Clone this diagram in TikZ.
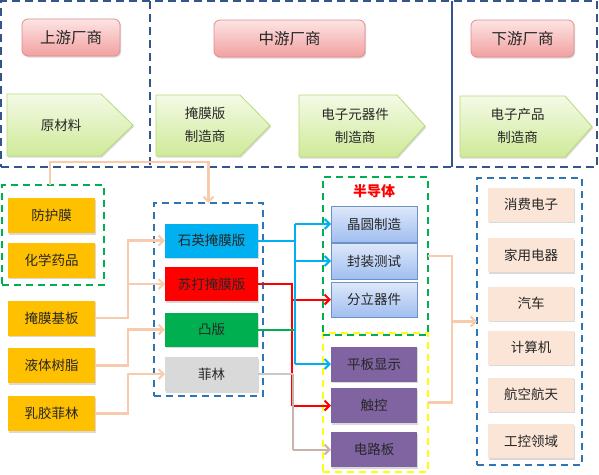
\documentclass[tikz,border=0pt]{standalone}
\usepackage{fontspec}
\newfontfamily\cjk{Noto Sans CJK SC}
\usetikzlibrary{arrows.meta,shadows}
\definecolor{dkblue}{RGB}{52,84,140}
\definecolor{grn}{RGB}{0,176,80}
\definecolor{mblue}{RGB}{46,117,182}
\definecolor{yel}{RGB}{255,255,0}
\definecolor{org}{RGB}{255,192,0}
\definecolor{peach}{RGB}{248,203,173}
\definecolor{prodc}{RGB}{251,229,214}
\definecolor{cyanb}{RGB}{0,176,240}
\definecolor{redc}{RGB}{255,0,0}
\definecolor{grayc}{RGB}{200,200,200}
\definecolor{purp}{RGB}{128,100,162}
\definecolor{graypink}{RGB}{200,178,172}
\definecolor{hdrtop}{RGB}{253,228,228}
\definecolor{hdrbot}{RGB}{242,160,160}
\definecolor{hdrbd}{RGB}{226,140,140}
\definecolor{pentop}{RGB}{244,250,230}
\definecolor{penbot}{RGB}{207,234,152}
\definecolor{penbd}{RGB}{183,218,120}
\definecolor{semtop}{RGB}{222,232,250}
\definecolor{sembot}{RGB}{160,190,240}
\definecolor{sembd}{RGB}{110,145,200}
\definecolor{txt}{RGB}{38,38,38}
\begin{document}
\begin{tikzpicture}[x=1pt,y=-1pt,
  font=\cjk\fontsize{13.5}{23}\selectfont, text=txt,
  every node/.style={inner sep=0pt, outer sep=0pt},
  shad/.style={drop shadow={opacity=0.3, shadow xshift=1.2pt, shadow yshift=-1.5pt}},
  outerdash/.style={draw=dkblue, line width=1.8pt, dash pattern=on 8pt off 5pt},
  gdash/.style={draw=grn, line width=1.8pt, dash pattern=on 7pt off 5pt},
  bdash/.style={draw=mblue, line width=1.8pt, dash pattern=on 7pt off 5pt},
  ydash/.style={draw=yel, line width=1.8pt, dash pattern=on 7pt off 5pt},
  hdr/.style={rounded corners=6pt, top color=hdrtop, bottom color=hdrbot, draw=hdrbd, line width=0.8pt, shad, minimum height=37pt, font=\cjk\fontsize{15.5}{18}\selectfont},
  pent/.style={top color=pentop, bottom color=penbot, draw=penbd, line width=0.8pt, shad},
  obox/.style={fill=org, shad, minimum width=87pt, minimum height=35pt},
  mbox/.style={shad, minimum width=93pt, minimum height=34pt},
  sbox/.style={top color=semtop, bottom color=sembot, draw=sembd, line width=0.8pt, minimum width=86pt, minimum height=36pt},
  pbox/.style={fill=purp, shad, minimum width=86pt, minimum height=35pt},
  dbox/.style={fill=prodc, shad, minimum width=86pt, minimum height=34pt},
  pline/.style={draw=peach, line width=2.2pt},
  parrow/.style={pline, -{Straight Barb[length=5pt,width=10pt,line width=2pt]}},
  cline/.style={line width=2pt},
  carrow/.style={line width=2pt, -{Straight Barb[length=5pt,width=10pt,line width=2pt]}}
]
\useasboundingbox (0,0) rectangle (599,474);

% top section
\node[outerdash, minimum width=596pt, minimum height=166pt] (topbox) at (299,84) {};
\draw[outerdash] (150,1) -- (150,167);
\draw[draw=dkblue, line width=1.8pt] (452,1) -- (452,167);

\node[hdr, minimum width=98pt] (hup) at (71,37.5) {上游厂商};
\node[hdr, minimum width=151pt] (hmid) at (289.5,38.5) {中游厂商};
\node[hdr, minimum width=103pt] (hdown) at (522.5,38.5) {下游厂商};

\shade[pent] (7,94) -- (101,94) -- (133,125) -- (101,156) -- (7,156) -- cycle;
\shade[pent] (156,95) -- (240,95) -- (270,125.5) -- (240,156) -- (156,156) -- cycle;
\shade[pent] (299,95) -- (397,95) -- (425,126) -- (397,157) -- (299,157) -- cycle;
\shade[pent] (460,96) -- (565,96) -- (592,126.5) -- (565,157) -- (460,157) -- cycle;
\node (p1) at (61,125) {原材料};
\node[align=center] (p2) at (205,125) {掩膜版\\制造商};
\node[align=center] (p3) at (355,125.5) {电子元器件\\制造商};
\node[align=center] (p4) at (517.5,126) {电子产品\\制造商};

% group boxes
\node[gdash, minimum width=102pt, minimum height=100pt] (rawg) at (53,235) {};
\node[bdash, minimum width=109pt, minimum height=193pt] (maskg) at (208.5,299.5) {};
\node[gdash, minimum width=105pt, minimum height=158pt] (semig) at (375.5,256) {};
\node[ydash, minimum width=105pt, minimum height=139pt] (yelg) at (375.5,402.5) {};
\node[bdash, minimum width=105pt, minimum height=287pt] (prodg) at (529.5,321.5) {};
\draw[gdash] (323,335) -- (428,335);

% raw materials
\node[obox] (fhm) at (51.5,215.5) {防护膜};
\node[obox] (hxyp) at (51.5,260) {化学药品};
\node[obox] (ymjb) at (51.5,318) {掩膜基板};
\node[obox] (ytsz) at (51.5,365.5) {液体树脂};
\node[obox] (rjfl) at (51.5,413.5) {乳胶菲林};

% mask plates
\node[mbox, fill=cyanb] (sy) at (211.5,240.5) {石英掩膜版};
\node[mbox, fill=redc] (sd) at (211.5,284) {苏打掩膜版};
\node[mbox, fill=grn] (tb) at (211.5,329.5) {凸版};
\node[mbox, fill=grayc!70] (fl) at (211.5,374) {菲林};

% semiconductor
\node[text=redc, font=\cjk\bfseries\fontsize{14}{16}\selectfont] (bdt) at (374,191) {半导体};
\node[sbox] (jy) at (374,224) {晶圆制造};
\node[sbox] (fz) at (374,261) {封装测试};
\node[sbox, minimum height=35pt] (flq) at (374,299.5) {分立器件};
\node[pbox] (pb) at (374,364) {平板显示};
\node[pbox] (ck) at (374,405.5) {触控};
\node[pbox] (dl) at (374,449.5) {电路板};

% products
\node[dbox] (xf) at (531,204.5) {消费电子};
\node[dbox] (jd) at (531,255) {家用电器};
\node[dbox] (qc) at (531,303.5) {汽车};
\node[dbox] (js) at (531,347.5) {计算机};
\node[dbox] (hk) at (531,394.5) {航空航天};
\node[dbox] (gk) at (531,441) {工控领域};

% peach connectors
\draw[parrow] ([xshift=-3pt]rawg.north) -- ++(0,-23) -| (maskg.north);
\draw[parrow] (ymjb.east) -- ++(33,0) |- (sy.west);
\draw[parrow] (ymjb.east) -- ++(33,0) |- (sd.west);
\draw[parrow] (ytsz.east) -- ++(33,0) |- (tb.west);
\draw[parrow] (rjfl.east) -- ++(33,0) |- (fl.west);
\draw[pline] (semig.east) -- ++(24,0) coordinate (rb) |- (yelg.east);
\draw[parrow] (rb |- prodg.west) -- (prodg.west);

% coloured connectors
\coordinate (rbus) at ([xshift=34pt]sd.east);
\coordinate (bbus) at ([xshift=37pt]sy.east);
\coordinate (gbus) at ([xshift=35pt]fl.east);
\draw[cline, color=redc] (sd.east) -- (rbus) -- (rbus |- ck.west);
\draw[carrow, color=redc] (rbus |- flq.west) -- (flq.west);
\draw[carrow, color=redc] (rbus |- ck.west) -- (ck.west);
\draw[cline, color=grn] (tb.east) -- (tb.east -| bbus);
\draw[cline, color=cyanb] (sy.east) -- (bbus);
\draw[cline, color=cyanb] (bbus |- jy.west) -- (bbus |- pb.west);
\draw[carrow, color=cyanb] (bbus |- jy.west) -- (jy.west);
\draw[carrow, color=cyanb] (bbus |- fz.west) -- (fz.west);
\draw[carrow, color=cyanb] (bbus |- pb.west) -- (pb.west);
\draw[cline, color=grayc] (fl.east) -- (gbus);
\draw[cline, color=graypink] (gbus) -- (gbus |- dl.west);
\draw[carrow, color=graypink] (gbus |- dl.west) -- (dl.west);
\end{tikzpicture}
\end{document}
